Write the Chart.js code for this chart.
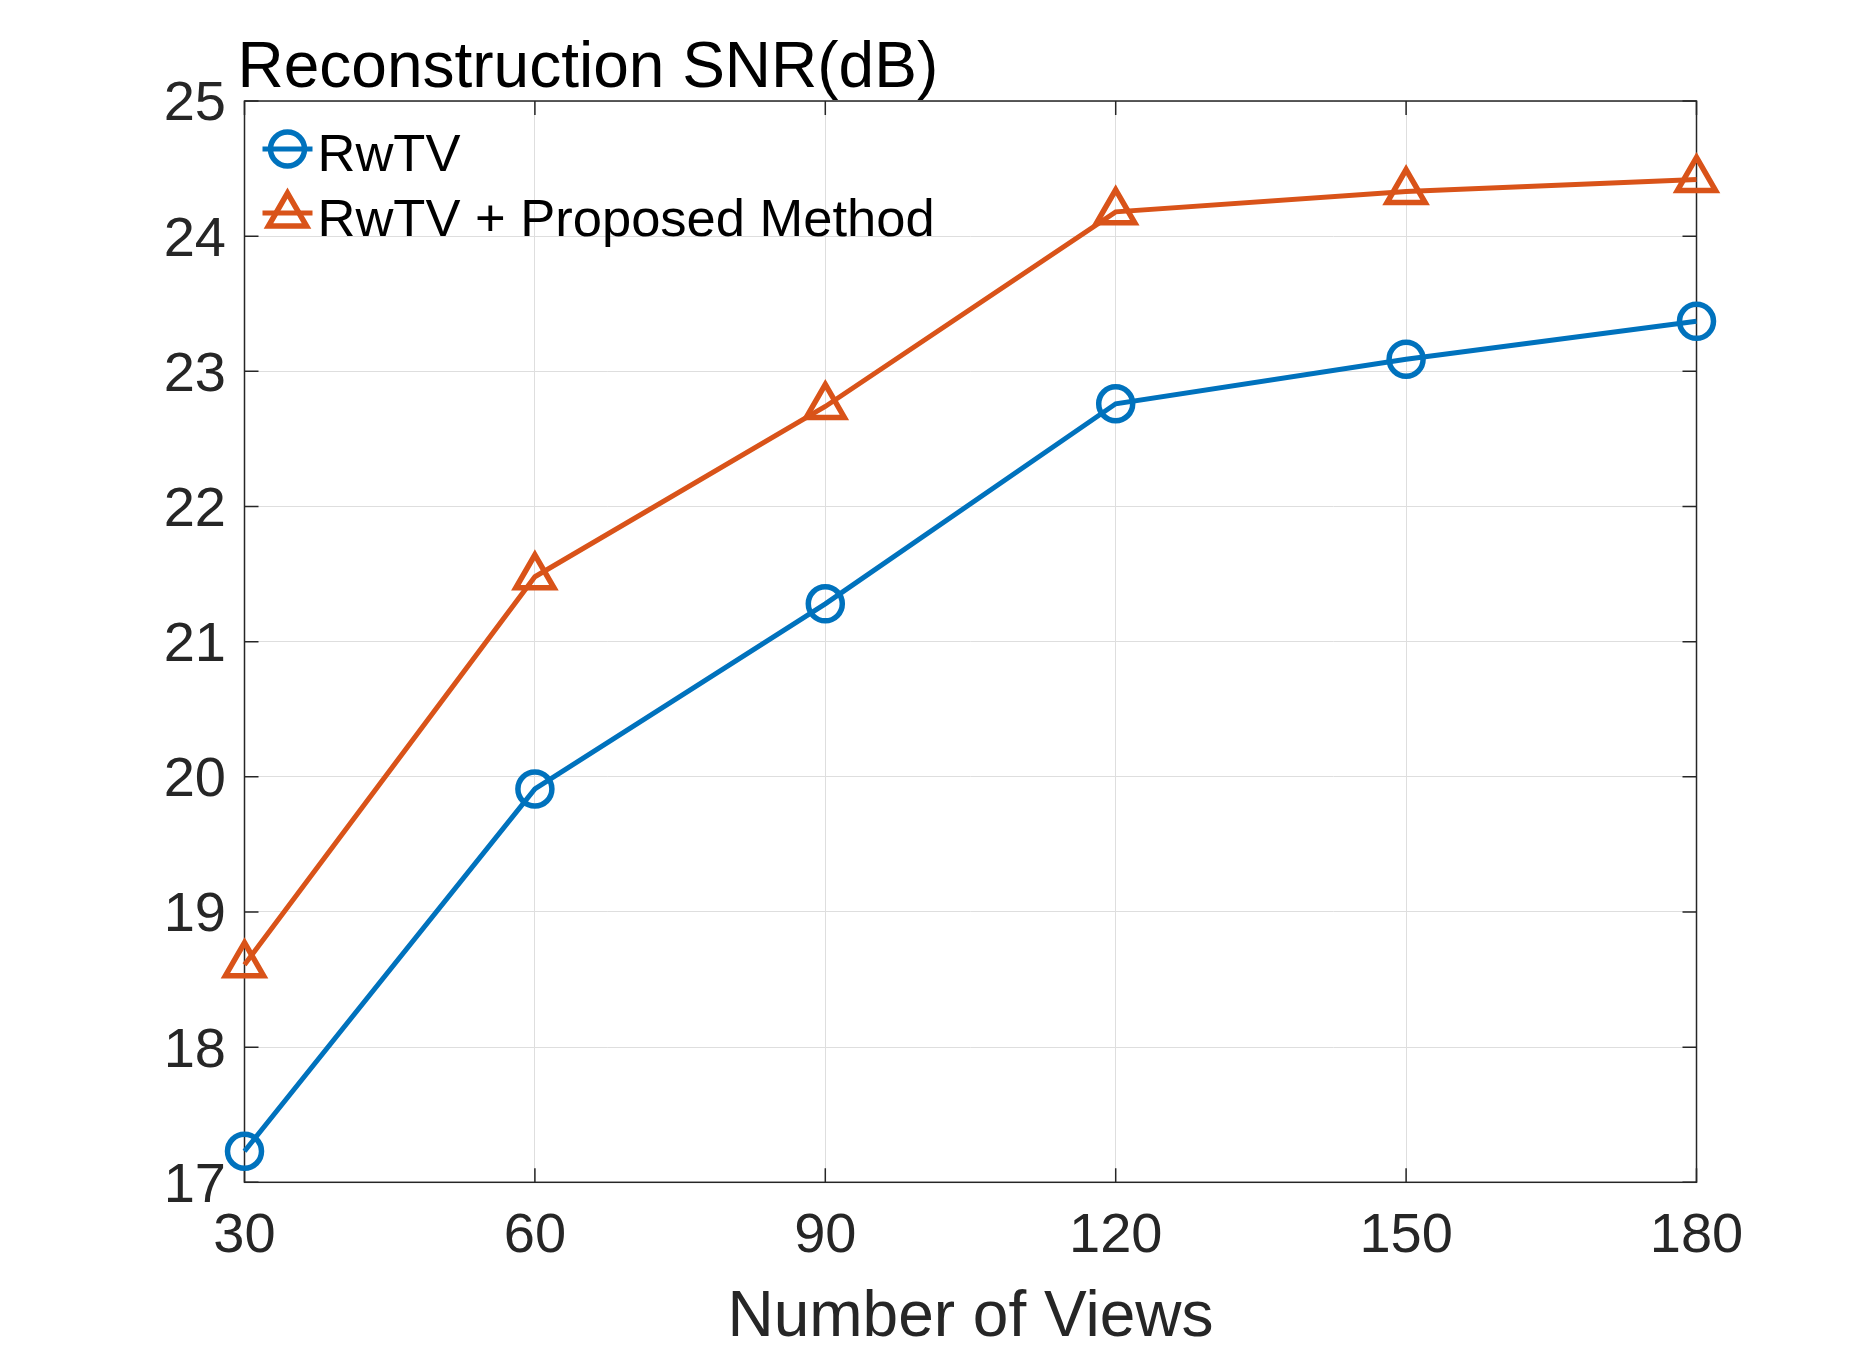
<!DOCTYPE html>
<html>
<head>
<meta charset="utf-8">
<script src="https://cdn.jsdelivr.net/npm/chart.js@4.4.1/dist/chart.umd.min.js"></script>
<style>
  html, body { margin: 0; padding: 0; background: #fff; }
  #wrap { width: 1875px; height: 1351px; }
</style>
</head>
<body>
<div id="wrap"><canvas id="snr" width="1875" height="1351"></canvas></div>
<script>
const views = [30, 60, 90, 120, 150, 180];
const rwtv = [17.23, 19.91, 21.28, 22.76, 23.09, 23.37];
const proposed = [18.61, 21.48, 22.74, 24.18, 24.33, 24.42];
const xTicks = [30, 60, 90, 120, 150, 180];
const yTicks = [17, 18, 19, 20, 21, 22, 23, 24, 25];

const FONT = '"Liberation Sans", Arial, Helvetica, sans-serif';
const AXIS_COLOR = '#262626';
const BLUE = '#0072BD';
const ORANGE = '#D95319';

// box, inward ticks, title and legend, MATLAB style
const matlabAxes = {
  id: 'matlabAxes',
  beforeDatasetsDraw(chart) {
    const { ctx, chartArea: a, scales: { x, y } } = chart;
    const tl = 14;
    ctx.save();
    ctx.strokeStyle = AXIS_COLOR;
    ctx.lineWidth = 1.5;
    ctx.beginPath();
    xTicks.forEach(v => {
      const px = x.getPixelForValue(v);
      ctx.moveTo(px, a.bottom); ctx.lineTo(px, a.bottom - tl);
      ctx.moveTo(px, a.top); ctx.lineTo(px, a.top + tl);
    });
    yTicks.forEach(v => {
      const py = y.getPixelForValue(v);
      ctx.moveTo(a.left, py); ctx.lineTo(a.left + tl, py);
      ctx.moveTo(a.right, py); ctx.lineTo(a.right - tl, py);
    });
    ctx.stroke();
    ctx.strokeRect(a.left, a.top, a.right - a.left, a.bottom - a.top);
    ctx.restore();
  },
  afterDraw(chart) {
    const { ctx, chartArea: a } = chart;
    ctx.save();
    ctx.fillStyle = '#000';
    ctx.font = '64px ' + FONT;
    ctx.textBaseline = 'alphabetic';
    ctx.textAlign = 'left';
    ctx.fillText('Reconstruction SNR(dB)', a.left - 7, 87);

    // legend
    const rows = [149, 213];
    ctx.font = '52.5px ' + FONT;
    ctx.textBaseline = 'alphabetic';
    const baselines = [170.5, 236];
    chart.data.datasets.forEach((ds, i) => {
      const ly = rows[i];
      const lx0 = a.left + 18, lx1 = a.left + 68, cx = a.left + 43;
      ctx.strokeStyle = ds.borderColor;
      ctx.lineWidth = ds.borderWidth;
      ctx.beginPath();
      ctx.moveTo(lx0, ly); ctx.lineTo(lx1, ly);
      ctx.stroke();
      ctx.lineWidth = ds.pointBorderWidth;
      ctx.beginPath();
      if (ds.pointStyle === 'triangle') {
        const r = ds.pointRadius;
        for (let k = 0; k < 3; k++) {
          const ang = k * 2 * Math.PI / 3;
          const px = cx + Math.sin(ang) * r, py = ly + 2 - Math.cos(ang) * r;
          if (k === 0) ctx.moveTo(px, py); else ctx.lineTo(px, py);
        }
        ctx.closePath();
      } else {
        ctx.arc(cx, ly, ds.pointRadius, 0, Math.PI * 2);
      }
      ctx.stroke();
      ctx.fillStyle = '#000';
      ctx.fillText(ds.label, a.left + 73, baselines[i]);
    });
    ctx.restore();
  }
};

const toPoints = (ys) => views.map((v, i) => ({ x: v, y: ys[i] }));

new Chart(document.getElementById('snr'), {
  type: 'line',
  data: {
    datasets: [
      {
        label: 'RwTV',
        data: toPoints(rwtv),
        borderColor: BLUE,
        backgroundColor: 'transparent',
        borderWidth: 5,
        pointStyle: 'circle',
        pointRadius: 17,
        pointBorderWidth: 5.5,
        pointBorderColor: BLUE,
        pointBackgroundColor: 'rgba(0,0,0,0)',
        clip: false,
        tension: 0,
      },
      {
        label: 'RwTV + Proposed Method',
        data: toPoints(proposed),
        borderColor: ORANGE,
        backgroundColor: 'transparent',
        borderWidth: 5,
        pointStyle: 'triangle',
        pointRadius: 22,
        pointBorderWidth: 5.5,
        pointBorderColor: ORANGE,
        pointBackgroundColor: 'rgba(0,0,0,0)',
        clip: false,
        tension: 0,
      },
    ],
  },
  options: {
    responsive: false,
    devicePixelRatio: 1,
    animation: false,
    layout: { padding: { top: 101, right: 178.5, left: 0, bottom: 0 } },
    scales: {
      x: {
        type: 'linear',
        position: 'bottom',
        min: 30,
        max: 180,
        afterBuildTicks: (s) => { s.ticks = xTicks.map(v => ({ value: v })); },
        afterFit: (s) => { s.height = 168.7; },
        grid: { color: '#dedede', lineWidth: 1, drawTicks: false },
        border: { display: false },
        ticks: {
          color: AXIS_COLOR,
          font: { family: FONT, size: 56 },
          padding: 21,
          maxRotation: 0,
          autoSkip: false,
        },
        title: {
          display: true,
          text: 'Number of Views',
          color: AXIS_COLOR,
          font: { family: FONT, size: 64, lineHeight: 1.03 },
          padding: { top: 0, bottom: 0 },
        },
      },
      y: {
        min: 17,
        max: 25,
        afterBuildTicks: (s) => { s.ticks = yTicks.map(v => ({ value: v })); },
        afterFit: (s) => { s.width = 244.5; },
        grid: { color: '#dedede', lineWidth: 1, drawTicks: false },
        border: { display: false },
        ticks: {
          color: AXIS_COLOR,
          font: { family: FONT, size: 56 },
          padding: 18.5,
          labelOffset: 4,
          autoSkip: false,
        },
      },
    },
    plugins: {
      legend: { display: false },
      tooltip: { enabled: false },
    },
  },
  plugins: [matlabAxes],
});
</script>
</body>
</html>
